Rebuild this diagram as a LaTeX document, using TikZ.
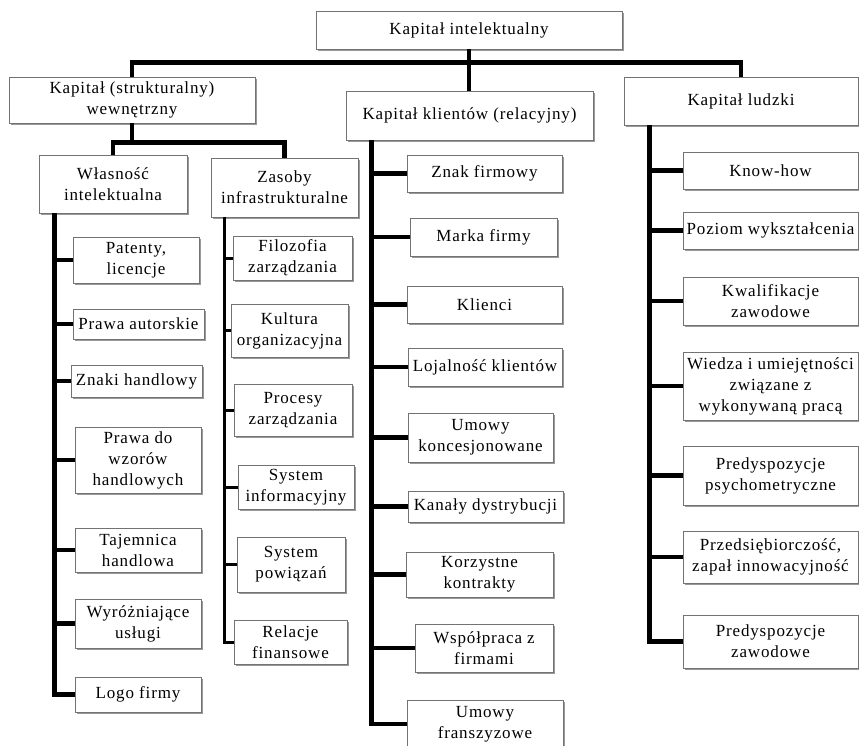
\documentclass[tikz,border=0pt]{standalone}
\usepackage{fontspec}
\setmainfont{Liberation Serif}[LetterSpace=5]
\usetikzlibrary{positioning,shadows}

\begin{document}
\begin{tikzpicture}[
            x=1pt, y=-1pt,
            every node/.style={font=\fontsize{17}{21}\selectfont},
            box/.style={draw=black!55, line width=0.8pt, fill=white, align=center, inner sep=1pt,
                drop shadow={shadow xshift=1.5pt, shadow yshift=-1.5pt, fill=black!40, opacity=1}},
            sz/.style 2 args={minimum width=#1pt, minimum height=#2pt},
            link/.style={line width=4.5pt},
            thinlink/.style={line width=3pt},
        ]
            \useasboundingbox (0,0) rectangle (859,745);

            % main levels
            \node[box, sz={306}{38}] (top) at (469,30) {Kapitał intelektualny};
            \node[box, sz={246}{46}] (struct) at (132,100) {Kapitał (strukturalny)\\wewnętrzny};
            \node[box, sz={247}{49}] (klient) at (469.5,115.5) {Kapitał klientów (relacyjny)};
            \node[box, sz={234}{48}] (ludzki) at (741,101) {Kapitał ludzki};
            \node[box, sz={148}{58}] (wlas) at (113,184) {Własność\\intelektualna};
            \node[box, sz={147}{59}] (zas) at (284.5,187.5) {Zasoby\\infrastrukturalne};

            % wlasnosc intelektualna
            \node[box, sz={126}{46}] (pat) at (136,260) {Patenty,\\licencje};
            \node[box, sz={131}{30}] (praw) at (138.5,324) {Prawa autorskie};
            \node[box, sz={131}{32}] (znaki) at (136.5,381) {Znaki handlowy};
            \node[box, sz={126}{66}] (wzor) at (138,460) {Prawa do\\wzorów\\handlowych};
            \node[box, sz={126}{44}] (taj) at (138,550) {Tajemnica\\handlowa};
            \node[box, sz={126}{49}] (wyr) at (138,623.5) {Wyróżniające\\usługi};
            \node[box, sz={126}{35}] (logo) at (138,694.5) {Logo firmy};

            % zasoby infrastrukturalne
            \node[box, sz={119}{44}] (filo) at (292.5,258) {Filozofia\\zarządzania};
            \node[box, sz={117}{53}] (kult) at (289.5,330.5) {Kultura\\organizacyjna};
            \node[box, sz={118}{52}] (proc) at (293,410) {Procesy\\zarządzania};
            \node[box, sz={116}{44}] (sinf) at (296,487) {System\\informacyjny};
            \node[box, sz={108}{55}] (spow) at (291,564.5) {System\\powiązań};
            \node[box, sz={113}{44}] (rel) at (290.5,642) {Relacje\\finansowe};

            % kapital klientow
            \node[box, sz={155}{37}] (znak) at (484.5,173.5) {Znak firmowy};
            \node[box, sz={147}{38}] (marka) at (483.5,237) {Marka firmy};
            \node[box, sz={155}{37}] (kli) at (484.5,304.5) {Klienci};
            \node[box, sz={154}{38}] (loj) at (485,367) {Lojalność klientów};
            \node[box, sz={145}{49}] (ukon) at (480.5,437.5) {Umowy\\koncesjonowane};
            \node[box, sz={155}{31}] (kan) at (485.5,506.5) {Kanały dystrybucji};
            \node[box, sz={147}{45}] (korz) at (479.5,574.5) {Korzystne\\kontrakty};
            \node[box, sz={138}{48}] (wsp) at (484,648) {Współpraca z\\firmami};
            \node[box, sz={156}{48}] (fran) at (485,724) {Umowy\\franszyzowe};

            % kapital ludzki
            \node[box, sz={175}{37}] (know) at (770.5,170.5) {Know-how};
            \node[box, sz={175}{37}] (poz) at (770.5,230.5) {Poziom wykształcenia};
            \node[box, sz={175}{48}] (kwal) at (770.5,301) {Kwalifikacje\\zawodowe};
            \node[box, sz={175}{68}] (wied) at (770.5,386) {Wiedza i umiejętności\\związane z\\wykonywaną pracą};
            \node[box, sz={175}{59}] (psych) at (770.5,475.5) {Predyspozycje\\psychometryczne};
            \node[box, sz={175}{52}] (przed) at (770.5,557) {Przedsiębiorczość,\\zapał innowacyjność};
            \node[box, sz={175}{53}] (pzaw) at (770.5,641.5) {Predyspozycje\\zawodowe};

            % tree lines
            \draw[link] (struct.north) -- ++(0,-14) -| (ludzki.north);
            \draw[link] (top.south) -- (top.south |- klient.north);
            \draw[link] (struct.south) -- ++(0,20);
            \draw[link] (wlas.north) -- ++(0,-12) -| (zas.north);

            \coordinate (sW) at ([xshift=16pt]wlas.south west);
            \coordinate (sZ) at ([xshift=14pt]zas.south west);
            \coordinate (sK) at ([xshift=26pt]klient.south west);
            \coordinate (sL) at ([xshift=26pt]ludzki.south west);

            \draw[link] (sW) |- (logo.west);
            \foreach \c in {pat,praw,znaki,wzor,taj,wyr}
                \draw[link] (\c.west) -- (\c.west -| sW);
            \draw[thinlink] (sZ) |- (rel.west);
            \foreach \c in {filo,kult,proc,sinf,spow}
                \draw[thinlink] (\c.west) -- (\c.west -| sZ);
            \draw[link] (sK) |- (fran.west);
            \foreach \c in {znak,marka,kli,loj,ukon,kan,korz,wsp}
                \draw[link] (\c.west) -- (\c.west -| sK);
            \draw[link] (sL) |- (pzaw.west);
            \foreach \c in {know,poz,kwal,wied,psych,przed}
                \draw[link] (\c.west) -- (\c.west -| sL);
        \end{tikzpicture}
\end{document}
